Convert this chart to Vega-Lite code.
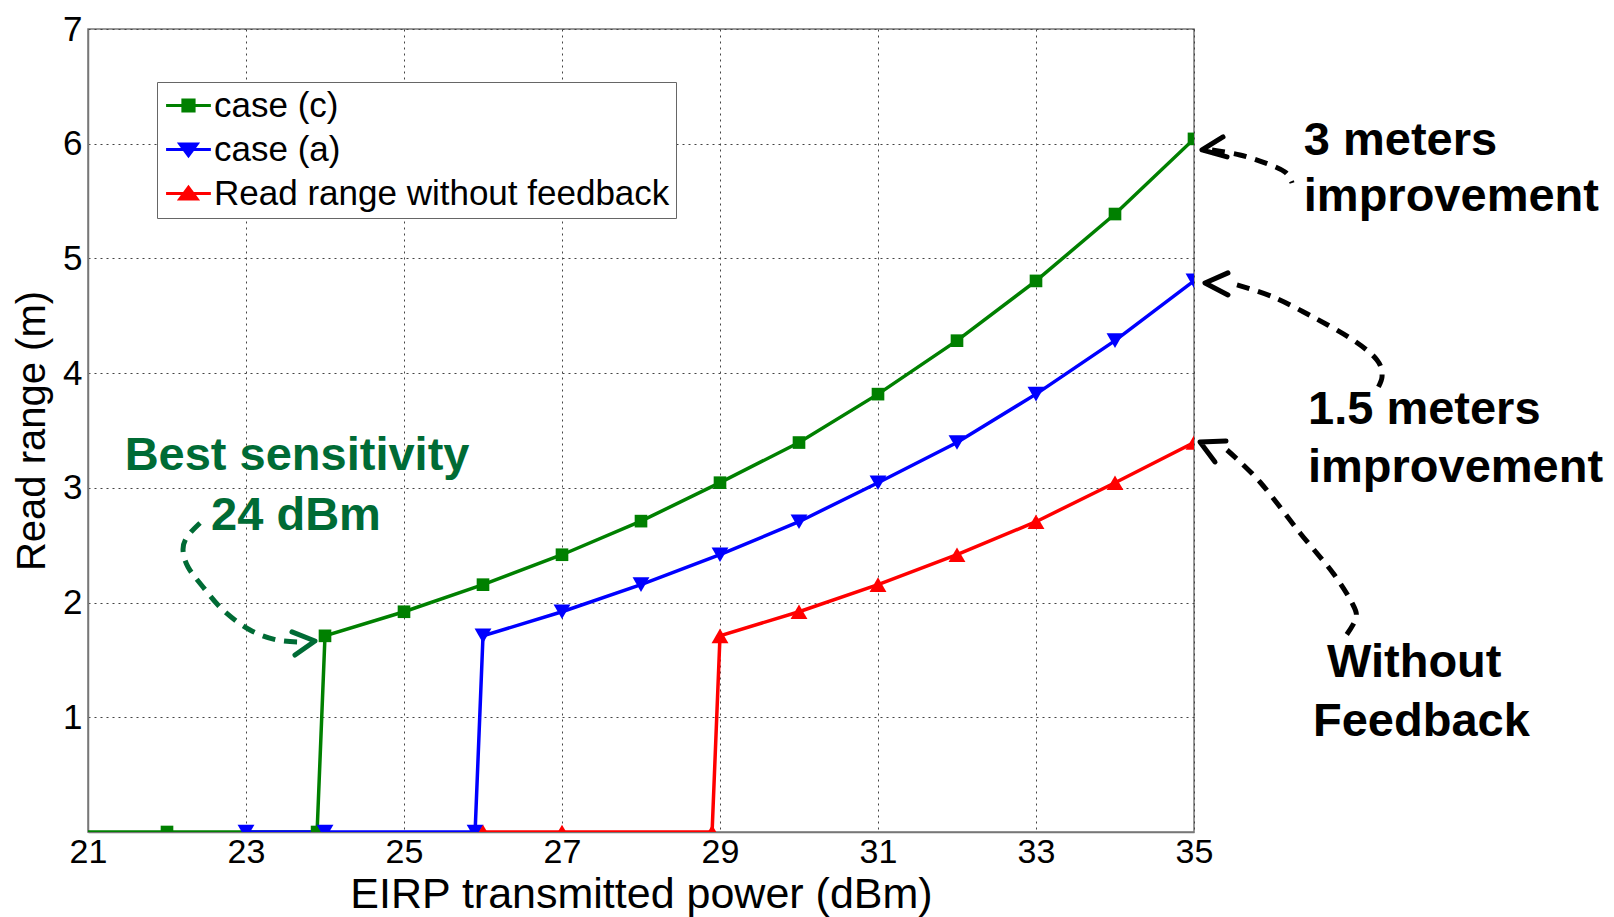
{
  "$schema": "https://vega.github.io/schema/vega-lite/v6.json",
  "width": 1106,
  "height": 803,
  "autosize": {"type": "none"},
  "padding": {"left": 88, "top": 29, "right": 420, "bottom": 85},
  "background": "white",
  "config": {
    "font": "Liberation Sans",
    "view": {"stroke": "#777777", "strokeWidth": 1.5},
    "axis": {
      "grid": true,
      "gridColor": "#444444",
      "gridDash": [2, 4],
      "gridWidth": 1,
      "gridOpacity": 1,
      "domainColor": "#777777",
      "domainWidth": 1.5,
      "ticks": false,
      "labelFontSize": 35,
      "labelColor": "black",
      "labelFont": "Liberation Sans",
      "labelFlush": false,
      "labelOverlap": false,
      "titleFont": "Liberation Sans",
      "titleFontWeight": "normal",
      "titleColor": "black",
      "format": "d"
    }
  },
  "datasets": {
    "series": [
      {"power": 20, "range": 0, "series": "case (c)"},
      {"power": 22, "range": 0, "series": "case (c)"},
      {"power": 23.9, "range": 0, "series": "case (c)"},
      {"power": 24, "range": 1.71, "series": "case (c)"},
      {"power": 25, "range": 1.92, "series": "case (c)"},
      {"power": 26, "range": 2.156, "series": "case (c)"},
      {"power": 27, "range": 2.417, "series": "case (c)"},
      {"power": 28, "range": 2.71, "series": "case (c)"},
      {"power": 29, "range": 3.045, "series": "case (c)"},
      {"power": 30, "range": 3.395, "series": "case (c)"},
      {"power": 31, "range": 3.817, "series": "case (c)"},
      {"power": 32, "range": 4.283, "series": "case (c)"},
      {"power": 33, "range": 4.804, "series": "case (c)"},
      {"power": 34, "range": 5.387, "series": "case (c)"},
      {"power": 35, "range": 6.042, "series": "case (c)"},
      {"power": 23, "range": 0, "series": "case (a)"},
      {"power": 24, "range": 0, "series": "case (a)"},
      {"power": 25.9, "range": 0, "series": "case (a)"},
      {"power": 26, "range": 1.71, "series": "case (a)"},
      {"power": 27, "range": 1.92, "series": "case (a)"},
      {"power": 28, "range": 2.156, "series": "case (a)"},
      {"power": 29, "range": 2.417, "series": "case (a)"},
      {"power": 30, "range": 2.705, "series": "case (a)"},
      {"power": 31, "range": 3.045, "series": "case (a)"},
      {"power": 32, "range": 3.395, "series": "case (a)"},
      {"power": 33, "range": 3.817, "series": "case (a)"},
      {"power": 34, "range": 4.283, "series": "case (a)"},
      {"power": 35, "range": 4.804, "series": "case (a)"},
      {"power": 26, "range": 0, "series": "Read range without feedback"},
      {"power": 27, "range": 0, "series": "Read range without feedback"},
      {"power": 28.9, "range": 0, "series": "Read range without feedback"},
      {"power": 29, "range": 1.71, "series": "Read range without feedback"},
      {"power": 30, "range": 1.92, "series": "Read range without feedback"},
      {"power": 31, "range": 2.156, "series": "Read range without feedback"},
      {"power": 32, "range": 2.417, "series": "Read range without feedback"},
      {"power": 33, "range": 2.705, "series": "Read range without feedback"},
      {"power": 34, "range": 3.045, "series": "Read range without feedback"},
      {"power": 35, "range": 3.395, "series": "Read range without feedback"}
    ],
    "curves": [
      {"arrow": "A", "i": 1, "x": 35.228, "y": 5.946},
      {"arrow": "A", "i": 2, "x": 35.582, "y": 5.902},
      {"arrow": "A", "i": 3, "x": 35.899, "y": 5.833},
      {"arrow": "A", "i": 4, "x": 36.152, "y": 5.754},
      {"arrow": "A", "i": 5, "x": 36.241, "y": 5.658},
      {"arrow": "B", "i": 1, "x": 35.544, "y": 4.769},
      {"arrow": "B", "i": 2, "x": 36.0, "y": 4.664},
      {"arrow": "B", "i": 3, "x": 36.506, "y": 4.49},
      {"arrow": "B", "i": 4, "x": 37.013, "y": 4.289},
      {"arrow": "B", "i": 5, "x": 37.316, "y": 4.115},
      {"arrow": "B", "i": 6, "x": 37.38, "y": 3.967},
      {"arrow": "B", "i": 7, "x": 37.291, "y": 3.827},
      {"arrow": "C", "i": 1, "x": 35.418, "y": 3.33},
      {"arrow": "C", "i": 2, "x": 35.835, "y": 3.051},
      {"arrow": "C", "i": 3, "x": 36.342, "y": 2.607},
      {"arrow": "C", "i": 4, "x": 36.759, "y": 2.258},
      {"arrow": "C", "i": 5, "x": 37.0, "y": 1.997},
      {"arrow": "C", "i": 6, "x": 37.051, "y": 1.866},
      {"arrow": "C", "i": 7, "x": 36.911, "y": 1.7},
      {"arrow": "D", "i": 1, "x": 22.418, "y": 2.694},
      {"arrow": "D", "i": 2, "x": 22.253, "y": 2.572},
      {"arrow": "D", "i": 3, "x": 22.203, "y": 2.459},
      {"arrow": "D", "i": 4, "x": 22.266, "y": 2.31},
      {"arrow": "D", "i": 5, "x": 22.456, "y": 2.136},
      {"arrow": "D", "i": 6, "x": 22.709, "y": 1.935},
      {"arrow": "D", "i": 7, "x": 23.051, "y": 1.761},
      {"arrow": "D", "i": 8, "x": 23.392, "y": 1.674},
      {"arrow": "D", "i": 9, "x": 23.722, "y": 1.656}
    ],
    "heads": [
      {"arrow": "A", "i": 1, "x": 35.367, "y": 6.059},
      {"arrow": "A", "i": 2, "x": 35.101, "y": 5.946},
      {"arrow": "A", "i": 3, "x": 35.418, "y": 5.885},
      {"arrow": "B", "i": 1, "x": 35.43, "y": 4.874},
      {"arrow": "B", "i": 2, "x": 35.139, "y": 4.786},
      {"arrow": "B", "i": 3, "x": 35.43, "y": 4.682},
      {"arrow": "C", "i": 1, "x": 35.405, "y": 3.409},
      {"arrow": "C", "i": 2, "x": 35.076, "y": 3.4},
      {"arrow": "C", "i": 3, "x": 35.266, "y": 3.226},
      {"arrow": "D", "i": 1, "x": 23.582, "y": 1.744},
      {"arrow": "D", "i": 2, "x": 23.873, "y": 1.665},
      {"arrow": "D", "i": 3, "x": 23.62, "y": 1.543}
    ],
    "notes": [
      {"kind": "black", "text": "3 meters", "x": 36.39, "y": 6.024},
      {"kind": "black", "text": "improvement", "x": 36.39, "y": 5.536},
      {"kind": "black", "text": "1.5 meters", "x": 36.443, "y": 3.679},
      {"kind": "black", "text": "improvement", "x": 36.443, "y": 3.174},
      {"kind": "black", "text": "Without", "x": 36.684, "y": 1.469},
      {"kind": "black", "text": "Feedback", "x": 36.506, "y": 0.963},
      {"kind": "green", "text": "Best sensitivity", "x": 23.646, "y": 3.274},
      {"kind": "green", "text": "24 dBm", "x": 23.633, "y": 2.759}
    ]
  },
  "layer": [
    {
      "data": {"name": "series"},
      "mark": {"type": "line", "strokeWidth": 3.5, "clip": true},
      "encoding": {
        "x": {
          "field": "power", "type": "quantitative",
          "scale": {"domain": [21, 35], "nice": false, "zero": false},
          "axis": {"values": [21, 23, 25, 27, 29, 31, 33, 35], "title": "EIRP transmitted power (dBm)", "titleFontSize": 43, "labelFontSize": 34, "labelPadding": 3, "titlePadding": 4}
        },
        "y": {
          "field": "range", "type": "quantitative",
          "scale": {"domain": [0, 7], "nice": false},
          "axis": {"values": [1, 2, 3, 4, 5, 6, 7], "title": "Read range (m)", "titleFontSize": 40, "labelPadding": 6, "titlePadding": 10}
        },
        "color": {
          "field": "series", "type": "nominal",
          "scale": {"domain": ["case (c)", "case (a)", "Read range without feedback"], "range": ["#008000", "#0000ff", "#ff0000"]},
          "legend": {
            "title": null,
            "orient": "none",
            "legendX": 69,
            "legendY": 53,
            "padding": 6,
            "rowPadding": 8,
            "symbolSize": 784,
            "labelOffset": 16,
            "labelFontSize": 35,
            "labelColor": "black",
            "labelLimit": 600,
            "fillColor": "white",
            "strokeColor": "#666666",
            "encode": {
              "symbols": {
                "update": {
                  "shape": {"signal": "datum.value == 'case (c)' ? 'M-1.03,0H2.17M0.17,-0.4H0.97V0.4H0.17Z' : datum.value == 'case (a)' ? 'M-1.03,0H2.17M-0.05,-0.4H1.19L0.57,0.45Z' : 'M-1.03,0H2.17M-0.05,0.4H1.19L0.57,-0.45Z'"},
                  "fill": {"scale": "color", "field": "value"},
                  "stroke": {"scale": "color", "field": "value"},
                  "strokeWidth": {"value": 3},
                  "opacity": {"value": 1}
                }
              }
            }
          }
        },
        "order": {"field": "power", "type": "quantitative"}
      }
    },
    {
      "data": {"name": "series"},
      "transform": [{"filter": "datum.series == 'case (c)'"}],
      "mark": {"type": "point", "shape": "square", "filled": true, "size": 160, "opacity": 1, "color": "#008000", "clip": true},
      "encoding": {
        "x": {"field": "power", "type": "quantitative"},
        "y": {"field": "range", "type": "quantitative"}
      }
    },
    {
      "data": {"name": "series"},
      "transform": [{"filter": "datum.series == 'case (a)'"}],
      "mark": {"type": "point", "shape": "triangle-down", "filled": true, "size": 285, "opacity": 1, "color": "#0000ff", "clip": true},
      "encoding": {
        "x": {"field": "power", "type": "quantitative"},
        "y": {"field": "range", "type": "quantitative"}
      }
    },
    {
      "data": {"name": "series"},
      "transform": [{"filter": "datum.series == 'Read range without feedback'"}],
      "mark": {"type": "point", "shape": "triangle-up", "filled": true, "size": 285, "opacity": 1, "color": "#ff0000", "clip": true},
      "encoding": {
        "x": {"field": "power", "type": "quantitative"},
        "y": {"field": "range", "type": "quantitative"}
      }
    },
    {
      "data": {"name": "curves"},
      "transform": [{"filter": "datum.arrow != 'D'"}],
      "mark": {"type": "line", "color": "black", "strokeWidth": 5, "strokeDash": [13, 9], "interpolate": "cardinal", "clip": false},
      "encoding": {
        "x": {"field": "x", "type": "quantitative"},
        "y": {"field": "y", "type": "quantitative"},
        "detail": {"field": "arrow"},
        "order": {"field": "i", "type": "quantitative"}
      }
    },
    {
      "data": {"name": "curves"},
      "transform": [{"filter": "datum.arrow == 'D'"}],
      "mark": {"type": "line", "color": "#006b35", "strokeWidth": 5, "strokeDash": [13, 9], "interpolate": "cardinal", "clip": false},
      "encoding": {
        "x": {"field": "x", "type": "quantitative"},
        "y": {"field": "y", "type": "quantitative"},
        "detail": {"field": "arrow"},
        "order": {"field": "i", "type": "quantitative"}
      }
    },
    {
      "data": {"name": "heads"},
      "transform": [{"filter": "datum.arrow != 'D'"}],
      "mark": {"type": "line", "color": "black", "strokeWidth": 5, "strokeCap": "round", "strokeJoin": "round", "clip": false},
      "encoding": {
        "x": {"field": "x", "type": "quantitative"},
        "y": {"field": "y", "type": "quantitative"},
        "detail": {"field": "arrow"},
        "order": {"field": "i", "type": "quantitative"}
      }
    },
    {
      "data": {"name": "heads"},
      "transform": [{"filter": "datum.arrow == 'D'"}],
      "mark": {"type": "line", "color": "#006b35", "strokeWidth": 5, "strokeCap": "round", "strokeJoin": "round", "clip": false},
      "encoding": {
        "x": {"field": "x", "type": "quantitative"},
        "y": {"field": "y", "type": "quantitative"},
        "detail": {"field": "arrow"},
        "order": {"field": "i", "type": "quantitative"}
      }
    },
    {
      "data": {"name": "notes"},
      "transform": [{"filter": "datum.kind == 'black'"}],
      "mark": {"type": "text", "align": "left", "baseline": "middle", "fontSize": 47, "fontWeight": "bold", "font": "Liberation Sans", "color": "black", "clip": false},
      "encoding": {
        "x": {"field": "x", "type": "quantitative"},
        "y": {"field": "y", "type": "quantitative"},
        "text": {"field": "text"}
      }
    },
    {
      "data": {"name": "notes"},
      "transform": [{"filter": "datum.kind == 'green'"}],
      "mark": {"type": "text", "align": "center", "baseline": "middle", "fontSize": 47, "fontWeight": "bold", "font": "Liberation Sans", "color": "#006b35", "clip": false},
      "encoding": {
        "x": {"field": "x", "type": "quantitative"},
        "y": {"field": "y", "type": "quantitative"},
        "text": {"field": "text"}
      }
    }
  ]
}
